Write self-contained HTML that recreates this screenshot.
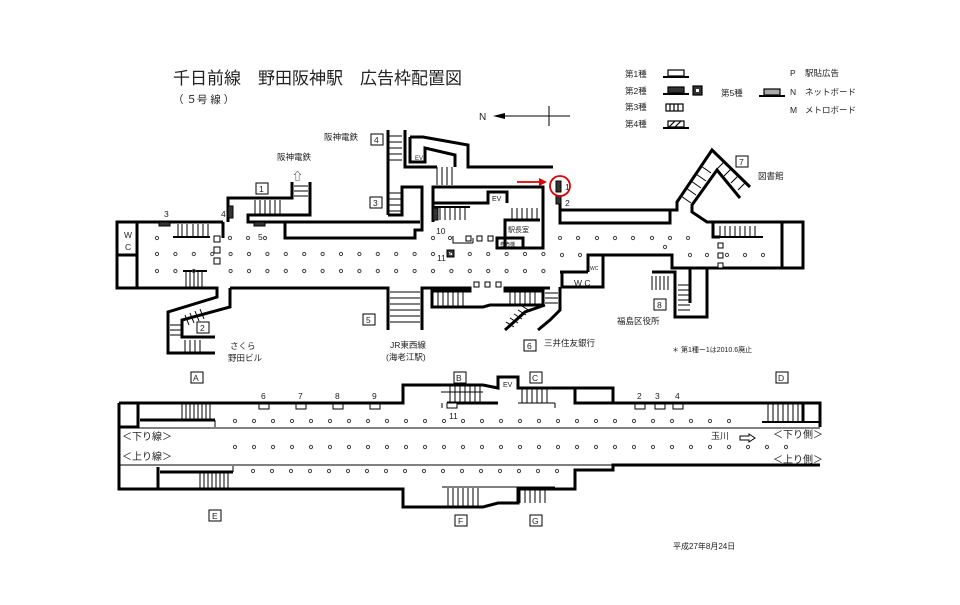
<!DOCTYPE html>
<html><head><meta charset="utf-8"><style>
html,body{margin:0;padding:0;background:#fff;}
svg{display:block;}
text{font-family:"Liberation Sans","Noto Sans CJK JP",sans-serif;fill:#222;}
</style></head><body>
<svg id="s" width="960" height="605" viewBox="0 0 960 605" xmlns="http://www.w3.org/2000/svg">
<text x="173" y="84" font-size="17">千日前線　野田阪神駅　広告枠配置図</text>
<text x="173" y="103" font-size="10.5">（ ５号 線 ）</text>
<text x="479" y="120" font-size="10">N</text>
<line x1="496" y1="116" x2="570" y2="116" stroke="#000" stroke-width="1"/>
<polygon points="493,116 505,113 505,119" fill="#000"/>
<line x1="549" y1="106" x2="549" y2="126" stroke="#000" stroke-width="1"/>
<g font-size="8.5">
<text x="625" y="77">第1種</text><text x="625" y="94">第2種</text><text x="625" y="110">第3種</text><text x="625" y="127">第4種</text>
<text x="721" y="96">第5種</text>
<text x="790" y="76">P</text><text x="805" y="76">駅貼広告</text>
<text x="790" y="95">N</text><text x="805" y="95">ネットボード</text>
<text x="790" y="113">M</text><text x="805" y="113">メトロボード</text>
</g>
<g stroke="#000" stroke-width="1.2">
<rect x="668" y="70" width="16" height="6" fill="#fff"/><line x1="663" y1="77" x2="689" y2="77" stroke-width="2"/>
<rect x="668" y="87" width="16" height="6" fill="#333"/><line x1="663" y1="94" x2="689" y2="94" stroke-width="2"/>
<rect x="693" y="86" width="9" height="9" fill="#333"/><rect x="696" y="89" width="3" height="3" fill="#fff" stroke="none"/>
<rect x="666" y="104" width="17" height="7" fill="#fff"/>
<line x1="670" y1="104" x2="670" y2="111"/><line x1="674" y1="104" x2="674" y2="111"/><line x1="678" y1="104" x2="678" y2="111"/>
<rect x="668" y="121" width="16" height="6" fill="#fff"/><line x1="669" y1="127" x2="675" y2="121"/><line x1="675" y1="127" x2="681" y2="121"/><line x1="663" y1="128" x2="689" y2="128" stroke-width="2"/>
<rect x="764" y="89" width="16" height="6" fill="#aaa"/><line x1="759" y1="96" x2="785" y2="96" stroke-width="2"/>
</g>

<g fill="none" stroke="#000" stroke-width="3" stroke-linejoin="miter">
<polyline points="223,222 117,222 117,288 217,288 217,297 168,312 168,353 215,353"/>
<polyline points="230,288 230,307 182,320 182,337 215,337"/>
<polyline points="230,288 388,288 388,330"/>
<polyline points="223,222 223,238"/>
<polyline points="228,222 228,198 292,198 292,182"/>
<polyline points="310,182 310,215 248,215 248,222 420,222"/>
<polyline points="285,222 285,238 415,238 415,230 422,230 422,187 402,187 402,215 388,215"/>
<polyline points="388,130 388,215"/>
<polyline points="405,130 405,167 437,167"/>
<polyline points="410,137 423,137 468,145 468,167 553,167"/>
<polyline points="410,137 410,162 425,162 425,148 455,155 455,167"/>
<polyline points="433,222 433,187 543,187 543,248 505,248 505,220 540,220"/>
<polyline points="433,203 488,203 488,192 507,192 507,203"/>
<rect x="497" y="238" width="26" height="10"/>
<polyline points="560,200 560,223 670,223 670,210 560,210"/>
<polyline points="670,210 677,210 677,202 712,150 750,187"/>
<polyline points="740,198 717,170 692,205 692,212 707,222 803,222 803,268 707,268 707,317 675,317 675,272 652,272"/>
<line x1="782" y1="222" x2="782" y2="268"/>
<polyline points="713,222 713,237 720,237"/>
<polyline points="690,268 690,303"/>
<polyline points="603,255 672,255 672,268 707,268"/>
<polyline points="588,272 588,255 603,255 603,287 562,287 562,272 588,272"/>
<polyline points="422,330 422,288 470,288 470,291 432,291 432,307 483,307 490,305 543,305 543,291 505,291 505,288 550,288"/>
<polyline points="560,287 560,310 550,320 538,330"/>
<polyline points="545,305 525,312 505,330"/>
<polyline points="560,272 580,272"/>
<line x1="117" y1="255" x2="137" y2="255"/>
<line x1="137" y1="222" x2="137" y2="288"/>
</g>
<g stroke="#000" stroke-width="1" fill="none">
<path d="M178 224v13M182 224v13M187 224v13M193 224v13M198 224v13M203 224v13M208 224v13"/>
<line x1="173" y1="237" x2="210" y2="237" stroke-width="2"/>
<path d="M186 271v16M190 271v16M194 271v16M198 271v16M202 271v16"/>
<line x1="183" y1="271" x2="207" y2="271" stroke-width="2"/>
<path d="M255 200v14M260 200v14M265 200v14M270 200v14M275 200v14M280 200v14"/>
<path d="M294 186h14M294 191h14M294 196h14"/>
<path d="M388 136h14M388 142h14M388 148h14M388 154h14M388 160h14M388 193h14M388 199h14M388 205h14M388 211h14"/>
<path d="M437 167v18M442 167v18M447 167v18M452 167v18"/>
<path d="M440 207v13M445 207v13M450 207v13M455 207v13M460 207v13M465 207v13"/>
<line x1="433" y1="207" x2="470" y2="207" stroke-width="2"/>
<path d="M512 208v12M517 208v12M522 208v12M527 208v12M532 208v12M537 208v12"/>
<path d="M390 292h30M390 298h30M390 304h30M390 310h30M390 316h30M390 322h30"/>
<path d="M438 292v14M443 292v14M448 292v14M453 292v14M458 292v14M463 292v14"/>
<path d="M510 292v13M515 292v13M520 292v13M525 292v13M530 292v13M535 292v13"/>
<path d="M545 293h13M545 298h13M545 303h13"/>
<path d="M506 322l8 5M510 318l8 5M514 314l8 5M518 310l8 5M522 306l8 5"/>
<path d="M185 315l4 10M190 313l4 10M195 311l4 10M200 309l4 10"/>
<path d="M170 325h12M170 330h12M170 335h12M185 340v12M190 340v12M195 340v12M200 340v12"/>
<path d="M681 196l10 7M686 188l10 7M691 181l10 7M696 174l10 7M701 166l10 7"/>
<path d="M724 162l-7 7M731 169l-7 7M738 176l-7 7M745 183l-7 7"/>
<path d="M720 226v11M725 226v11M730 226v11M735 226v11M740 226v11M745 226v11M750 226v11M755 226v11"/>
<line x1="713" y1="237" x2="763" y2="237" stroke-width="2"/>
<path d="M652 276v14M656 276v14M660 276v14M664 276v14M668 276v14"/>
<path d="M678 285h12M678 290h12M678 295h12M678 300h12M678 305h12M678 310h12"/>
<path d="M453 236v7h20M473 238v5"/>
</g>
<g fill="#333" stroke="#000">
<rect x="159" y="222" width="11" height="4"/><rect x="254" y="222" width="11" height="4"/>
<rect x="228" y="206" width="5" height="12"/><rect x="433" y="208" width="5" height="12"/>
<rect x="556" y="181" width="5" height="11"/><rect x="556" y="196" width="5" height="8"/>
<rect x="447" y="250" width="7" height="7"/>
</g>
<rect x="449" y="252" width="3" height="3" fill="#fff"/>
<g fill="#fff" stroke="#000" stroke-width="1">
<rect x="214" y="236" width="6" height="6"/><rect x="214" y="247" width="6" height="6"/><rect x="214" y="258" width="6" height="6"/>
<rect x="466" y="236" width="5" height="5"/><rect x="477" y="236" width="5" height="5"/><rect x="488" y="236" width="5" height="5"/>
<rect x="474" y="282" width="5" height="5"/><rect x="485" y="282" width="5" height="5"/><rect x="496" y="282" width="5" height="5"/>
<rect x="718" y="243" width="5" height="5"/><rect x="718" y="253" width="5" height="5"/><rect x="718" y="263" width="5" height="5"/>
</g>
<circle cx="560" cy="186" r="10" fill="none" stroke="#d00" stroke-width="1.8"/>
<line x1="517" y1="182" x2="543" y2="182" stroke="#d00" stroke-width="1.8"/>
<polygon points="547,182 539,178 539,186" fill="#d00"/>

<g font-size="8.5">
<text x="324" y="140">阪神電鉄</text><text x="277" y="160">阪神電鉄</text>
<text x="292" y="180" font-size="11">⇧</text>
<text x="164" y="217">3</text><text x="221" y="217">4</text><text x="258" y="240">5</text>
<text x="436" y="234">10</text><text x="437" y="261">11</text>
<text x="565" y="190">1</text><text x="565" y="206">2</text>
<text x="124" y="238">W</text><text x="125" y="250">C</text>
<text x="415" y="160" font-size="6">EV</text><text x="492" y="201" font-size="7">EV</text>
<text x="508" y="232" font-size="7">駅長室</text><text x="500" y="246" font-size="5">券売機</text>
<text x="574" y="286">W C</text><text x="590" y="270" font-size="5">WC</text>
<text x="758" y="179">図書館</text>
<text x="230" y="349">さくら</text><text x="228" y="361">野田ビル</text>
<text x="390" y="348">JR東西線</text><text x="386" y="360">(海老江駅)</text>
<text x="544" y="346">三井住友銀行</text>
<text x="617" y="324">福島区役所</text>
<text x="672" y="352" font-size="7">＊ 第1種ー1は2010.6廃止</text>
<text x="673" y="549" font-size="8">平成27年8月24日</text>
</g>
<g font-size="8.5" stroke="none">
<rect x="256" y="183" width="12" height="11" fill="none" stroke="#000"/><text x="259" y="192">1</text>
<rect x="197" y="322" width="12" height="11" fill="none" stroke="#000"/><text x="200" y="331">2</text>
<rect x="370" y="197" width="12" height="11" fill="none" stroke="#000"/><text x="373" y="206">3</text>
<rect x="371" y="134" width="12" height="11" fill="none" stroke="#000"/><text x="374" y="143">4</text>
<rect x="363" y="314" width="12" height="11" fill="none" stroke="#000"/><text x="366" y="323">5</text>
<rect x="524" y="340" width="12" height="11" fill="none" stroke="#000"/><text x="527" y="349">6</text>
<rect x="736" y="156" width="12" height="11" fill="none" stroke="#000"/><text x="739" y="165">7</text>
<rect x="654" y="299" width="12" height="11" fill="none" stroke="#000"/><text x="657" y="308">8</text>
<rect x="191" y="372" width="12" height="11" fill="none" stroke="#000"/><text x="193" y="381">A</text>
<rect x="454" y="372" width="12" height="11" fill="none" stroke="#000"/><text x="456" y="381">B</text>
<rect x="530" y="372" width="12" height="11" fill="none" stroke="#000"/><text x="532" y="381">C</text>
<rect x="776" y="372" width="12" height="11" fill="none" stroke="#000"/><text x="778" y="381">D</text>
<rect x="209" y="510" width="12" height="11" fill="none" stroke="#000"/><text x="212" y="519">E</text>
<rect x="455" y="515" width="12" height="11" fill="none" stroke="#000"/><text x="458" y="524">F</text>
<rect x="530" y="515" width="12" height="11" fill="none" stroke="#000"/><text x="532" y="524">G</text>
</g>

<g fill="none" stroke="#000" stroke-width="3">
<polyline points="119,403 403,403 403,385 483,385 498,388 498,377 518,377 518,388 613,388 613,403 820,403 820,427"/>
<polyline points="575,388 575,403 613,403"/>
<polyline points="119,403 119,489 403,489 403,507 483,507 498,503 518,503 518,489 575,489 575,470 613,470 613,465 820,465"/>
<polyline points="119,427 138,427 138,403"/>
<polyline points="140,420 215,420"/>
<polyline points="803,403 803,422"/>
<polyline points="158,489 158,467"/>
<polyline points="160,472 233,472"/>
<polyline points="447,403 498,403"/>
</g>
<g stroke="#000" stroke-width="1" fill="none">
<line x1="119" y1="428" x2="820" y2="428"/>
<line x1="119" y1="465" x2="613" y2="465"/>
<line x1="215" y1="420" x2="215" y2="427"/><line x1="233" y1="466" x2="233" y2="472"/>
<line x1="441" y1="392" x2="483" y2="392"/><line x1="442" y1="403" x2="442" y2="408"/>
<line x1="518" y1="403" x2="555" y2="403"/><line x1="555" y1="403" x2="555" y2="408"/>
<line x1="442" y1="487" x2="555" y2="487"/>
<line x1="762" y1="422" x2="820" y2="422" stroke-width="2"/>
<path d="M182 403v17M186 403v17M190 403v17M194 403v17M198 403v17M202 403v17M206 403v17M210 403v17"/>
<path d="M200 473v16M204 473v16M208 473v16M212 473v16M216 473v16M220 473v16M224 473v16M228 473v16"/>
<path d="M450 386v17M455 386v17M460 386v17M465 386v17M470 386v17M475 386v17M480 386v17"/>
<path d="M522 389v14M527 389v14M532 389v14M537 389v14M542 389v14M547 389v14"/>
<path d="M448 488v19M453 488v19M458 488v19M463 488v19M468 488v19M473 488v19M478 488v19"/>
<path d="M520 488v15M525 488v15M530 488v15M535 488v15M540 488v15M545 488v15"/>
<path d="M768 404v18M773 404v18M778 404v18M783 404v18M788 404v18M793 404v18M798 404v18"/>
<path d="M740 436h9v-2l6 4l-6 4v-2h-9z"/>
</g>
<g fill="#fff" stroke="#000" stroke-width="1">
<rect x="259" y="404" width="10" height="5"/><rect x="296" y="404" width="10" height="5"/><rect x="333" y="404" width="10" height="5"/><rect x="370" y="404" width="10" height="5"/>
<rect x="447" y="403" width="10" height="5"/>
<rect x="635" y="404" width="10" height="5"/><rect x="655" y="404" width="10" height="5"/><rect x="673" y="404" width="10" height="5"/>
</g>
<g font-size="8.5">
<text x="261" y="399">6</text><text x="298" y="399">7</text><text x="335" y="399">8</text><text x="372" y="399">9</text>
<text x="449" y="419">11</text><text x="503" y="387" font-size="7">EV</text>
<text x="637" y="399">2</text><text x="655" y="399">3</text><text x="675" y="399">4</text>
<text x="122" y="440" font-size="10">＜下り線＞</text><text x="122" y="460" font-size="10">＜上り線＞</text>
<text x="711" y="439" font-size="9">玉川</text>
<text x="773" y="438" font-size="10">＜下り側＞</text><text x="773" y="463" font-size="10">＜上り側＞</text>
</g>
<g id="dots" fill="none" stroke="#444" stroke-width="1"></g>
</svg>
<script>
(function(){
var g=document.getElementById('dots'),h='';
function d(x,y){h+='<circle cx="'+x.toFixed(1)+'" cy="'+y+'" r="1.6"/>';}
var step=18.4,x;
d(157,238);[230,248,265,433,450,560,578,597,615,633,652,670,688].forEach(function(v){d(v,238);});
for(x=157;x<=545;x+=step)d(x,254);
[562,580,690,707,727,745,763].forEach(function(v){d(v,255);});
for(x=157;x<=545;x+=step){if(x>200&&x<225)continue;d(x,271);}
d(665,247);
for(x=235;x<=746;x+=19)d(x,421);
for(x=235;x<=803;x+=19)d(x,447);
for(x=253;x<=560;x+=19)d(x,471);
g.innerHTML=h;
})();
</script>
</body></html>
